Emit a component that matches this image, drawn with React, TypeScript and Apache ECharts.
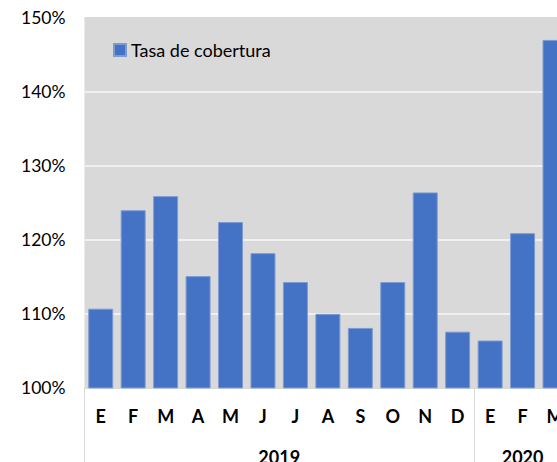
import React, { useEffect, useRef } from "react";
import * as echarts from "echarts";

const months = ["E", "F", "M", "A", "M", "J", "J", "A", "S", "O", "N", "D", "E", "F", "M"];
const years = ["2019", "2020"];
const monthsPerYear = [12, 3];
const coverage = [110.7, 124.0, 125.9, 115.1, 122.4, 118.2, 114.3, 110.0, 108.1, 114.3, 126.4, 107.6, 106.4, 120.9, 147.0];
const yMin = 100;
const yMax = 150;
const yStep = 10;
const seriesName = "Tasa de cobertura";

// Year axis built on half-category points (boundaryGap false)
const total = monthsPerYear.reduce((a, b) => a + b, 0);
const yearAxisData: string[] = new Array(total * 2 + 1).fill("");
const yearLabelIdx: number[] = [];
const yearTickIdx: number[] = [0];
{
  let start = 0;
  years.forEach((y, i) => {
    const idx = start * 2 + monthsPerYear[i];
    yearAxisData[idx] = y;
    yearLabelIdx.push(idx);
    start += monthsPerYear[i];
    yearTickIdx.push(start * 2);
  });
}

const FONT = "Lato, 'Open Sans', sans-serif";

export default function App() {
  const ref = useRef<HTMLDivElement>(null);
  useEffect(() => {
    if (!ref.current) return;
    const chart = echarts.init(ref.current, null, { renderer: "svg" });
    chart.setOption({
      animation: false,
      backgroundColor: "#ffffff",
      textStyle: { fontFamily: FONT },
      legend: {
        show: true,
        left: 108,
        top: 36,
        icon: "rect",
        itemWidth: 12,
        itemHeight: 12,
        itemGap: 10,
        textStyle: { fontSize: 18, color: "#000", fontFamily: FONT },
        data: [seriesName],
      },
      grid: {
        left: 84.5,
        top: 17.7,
        width: 486.75,
        height: 370.2,
        show: true,
        backgroundColor: "#d9d9d9",
        borderWidth: 0,
        containLabel: false,
        outerBoundsMode: "none",
      },
      xAxis: [
        {
          type: "category",
          data: months,
          axisLine: { show: false },
          axisTick: { show: false },
          axisLabel: {
            interval: 0,
            margin: 19,
            fontSize: 18,
            fontWeight: "bold",
            color: "#000",
            fontFamily: FONT,
          },
          splitLine: { show: false },
        },
        {
          type: "category",
          position: "bottom",
          boundaryGap: false,
          data: yearAxisData,
          axisLine: { show: false },
          axisTick: {
            show: true,
            interval: (idx: number) => yearTickIdx.includes(idx),
            length: 76,
            lineStyle: { color: "#d9d9d9", width: 1 },
          },
          axisLabel: {
            interval: (idx: number) => yearLabelIdx.includes(idx),
            margin: 60,
            fontSize: 18,
            fontWeight: "bold",
            color: "#000",
            fontFamily: FONT,
          },
          splitLine: { show: false },
        },
      ],
      yAxis: {
        type: "value",
        min: yMin,
        max: yMax,
        interval: yStep,
        axisLine: { show: false },
        axisTick: { show: false },
        axisLabel: {
          formatter: "{value}%",
          margin: 19,
          fontSize: 17.5,
          color: "#000",
          fontFamily: FONT,
        },
        splitLine: {
          show: true,
          lineStyle: {
            color: ["#d9d9d9", "#f0f0f0", "#f0f0f0", "#f0f0f0", "#f0f0f0", "#d9d9d9"],
            width: 2,
          },
        },
      },
      series: [
        {
          name: seriesName,
          type: "bar",
          xAxisIndex: 0,
          data: coverage,
          barCategoryGap: "23%",
          itemStyle: { color: "#4472c4", borderColor: "#7d9bd3", borderWidth: 1 },
        },
      ],
    });
    return () => chart.dispose();
  }, []);
  return (
    <div
      style={{
        position: "fixed",
        left: 0,
        top: 0,
        width: 557,
        height: 462,
        overflow: "hidden",
        background: "#fff",
      }}
    >
      <div ref={ref} style={{ width: 600, height: 462 }} />
    </div>
  );
}
